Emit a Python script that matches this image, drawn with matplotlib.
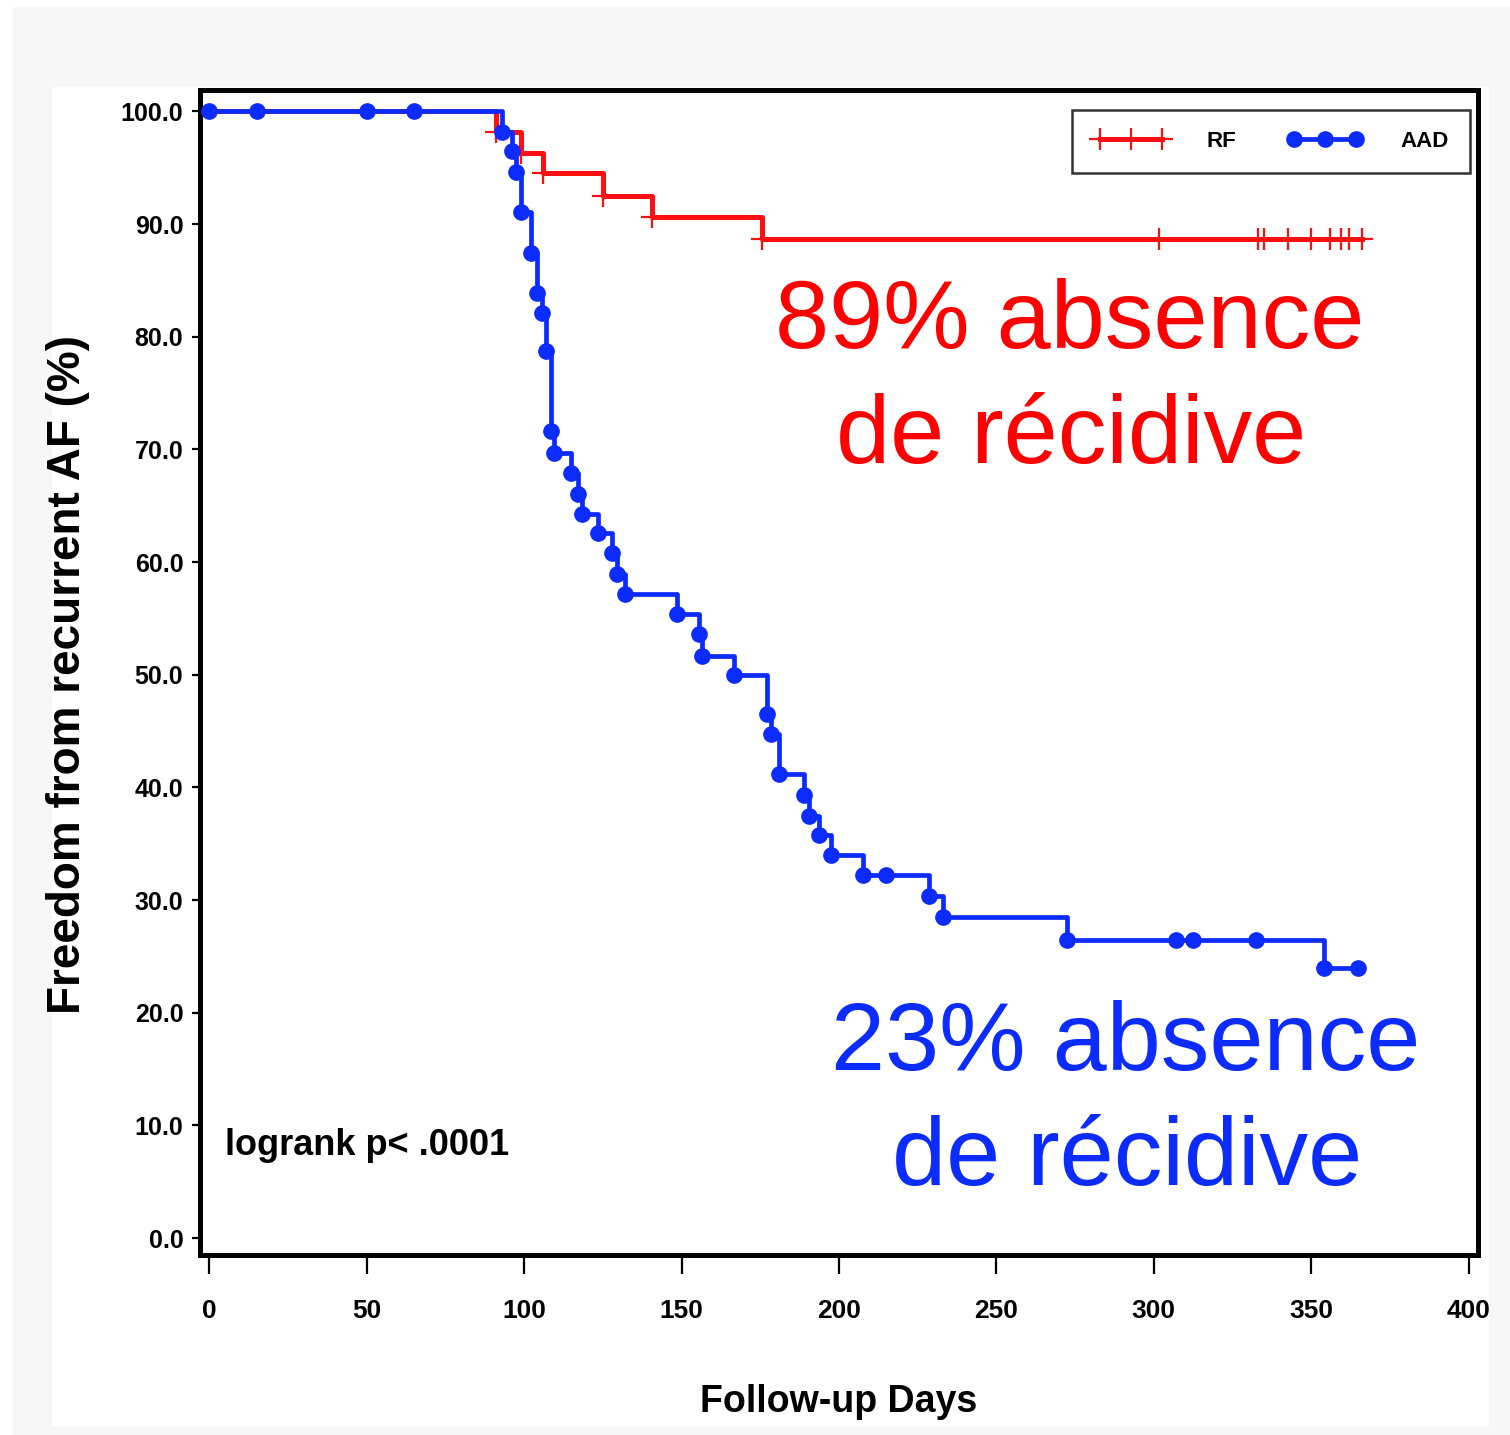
import matplotlib
matplotlib.use("Agg")
import matplotlib.pyplot as plt
from matplotlib.lines import Line2D
from matplotlib.patches import Rectangle

# RF group: event times (days) and survival (%) after each step
rf_t = [91, 99, 106, 125, 140.5, 175.5]
rf_s = [98.2, 96.3, 94.5, 92.5, 90.6, 88.7]
rf_cens_t = [301.5, 333, 335, 342.5, 350, 356, 359.5, 362, 366]
rf_cens_s = [88.7] * len(rf_cens_t)

# AAD group
aad_t = [93, 96, 97.5, 99, 102, 104, 105.5, 107, 108.5, 109.5, 115, 117, 118.5,
         123.5, 128, 129.5, 132, 148.5, 155.5, 156.5, 166.5, 177, 178.5, 181,
         189, 190.5, 193.5, 197.5, 207.5, 228.5, 233, 272.5, 354]
aad_s = [98.2, 96.5, 94.6, 91.1, 87.4, 83.9, 82.1, 78.7, 71.6, 69.7, 67.9, 66.0,
         64.3, 62.6, 60.8, 58.9, 57.2, 55.4, 53.6, 51.7, 50.0, 46.5, 44.7, 41.2,
         39.3, 37.5, 35.8, 34.0, 32.2, 30.4, 28.5, 26.5, 24.0]
aad_cens_t = [0, 15, 50, 65, 215, 307, 312.5, 332.5, 365]
aad_cens_s = [100, 100, 100, 100, 32.2, 26.5, 26.5, 26.5, 24.0]

xticks = [0, 50, 100, 150, 200, 250, 300, 350, 400]
yticks = [0, 10, 20, 30, 40, 50, 60, 70, 80, 90, 100]

RED = "#ff1010"
BLUE = "#0b2bff"
SANS = "Liberation Sans"
W, H = 1510, 1435

fig = plt.figure(figsize=(W / 100, H / 100), dpi=100, facecolor="white")


def fxy(x, y):
    return x / W, 1 - y / H


# background panels like the screenshot
fig.patches.append(Rectangle(fxy(13, H), (W - 13) / W, (H - 7) / H, transform=fig.transFigure,
                             color="#f7f7f7", zorder=-2))
fig.patches.append(Rectangle(fxy(52, 1425), (1488 - 52) / W, (1425 - 87) / H, transform=fig.transFigure,
                             color="white", zorder=-1))

ax = fig.add_axes([200 / W, 1 - 1255 / H, (1478 - 200) / W, (1255 - 90) / H])

# red curve
ax.step([0] + rf_t + [rf_cens_t[-1]], [100] + rf_s + [rf_s[-1]], where="post",
        color=RED, lw=3.6, zorder=3)
ax.plot(rf_t + rf_cens_t, rf_s + rf_cens_s, ls="none", marker="+", ms=16, mew=1.6,
        color=RED, zorder=3)

# blue curve
ax.step([0] + aad_t + [aad_cens_t[-1]], [100] + aad_s + [aad_s[-1]], where="post",
        color=BLUE, lw=3.4, zorder=4)
ax.plot(aad_t + aad_cens_t, aad_s + aad_cens_s, ls="none", marker="o", ms=11,
        color=BLUE, zorder=4)

ax.set_xlim(-3, 403)
ax.set_ylim(-1.5, 101.9)
ax.set_xticks(xticks)
ax.set_yticks(yticks)
ax.set_xticklabels([str(v) for v in xticks], family=SANS, weight="bold", fontsize=19)
ax.set_yticklabels(["%.1f" % v for v in yticks], family=SANS, weight="bold", fontsize=18)
ax.tick_params(axis="x", length=14, width=1.6, pad=18)
ax.tick_params(axis="y", length=6, width=1.6, pad=6)
for s in ax.spines.values():
    s.set_linewidth(3.6)

ax.text(5, 7.4, "logrank p< .0001", family=SANS, weight="bold", fontsize=26, va="baseline")

handles = [Line2D([0], [0], color=RED, lw=3.6, marker="+", ms=16, mew=1.6),
           Line2D([0], [0], color=BLUE, lw=3.4, marker="o", ms=11)]
leg = ax.legend(handles, ["RF", "AAD"], loc="upper right", bbox_to_anchor=(0.9937, 0.9828),
                borderaxespad=0, ncol=2, numpoints=3, handlelength=3.4, handletextpad=1.7,
                columnspacing=2.3, borderpad=0.95, fancybox=False, framealpha=1,
                prop={"family": SANS, "weight": "bold", "size": 16})
leg.get_frame().set_edgecolor("#333333")
leg.get_frame().set_linewidth(1.8)

fig.text(*fxy(68, 675), "Freedom from recurrent AF (%)", rotation=90, ha="center", va="center",
         family=SANS, weight="bold", fontsize=33)
fig.text(*fxy(839, 1412), "Follow-up Days", ha="center", va="baseline",
         family=SANS, weight="bold", fontsize=27)

fig.text(*fxy(1070, 348), "89% absence", ha="center", va="baseline", color="#ff0000",
         family=SANS, fontsize=70)
fig.text(*fxy(1071, 463), "de récidive", ha="center", va="baseline", color="#ff0000",
         family=SANS, fontsize=70)
fig.text(*fxy(1126, 1070), "23% absence", ha="center", va="baseline", color=BLUE,
         family=SANS, fontsize=70)
fig.text(*fxy(1127, 1185), "de récidive", ha="center", va="baseline", color=BLUE,
         family=SANS, fontsize=70)

fig.savefig("out.png", dpi=100, facecolor=fig.get_facecolor())
